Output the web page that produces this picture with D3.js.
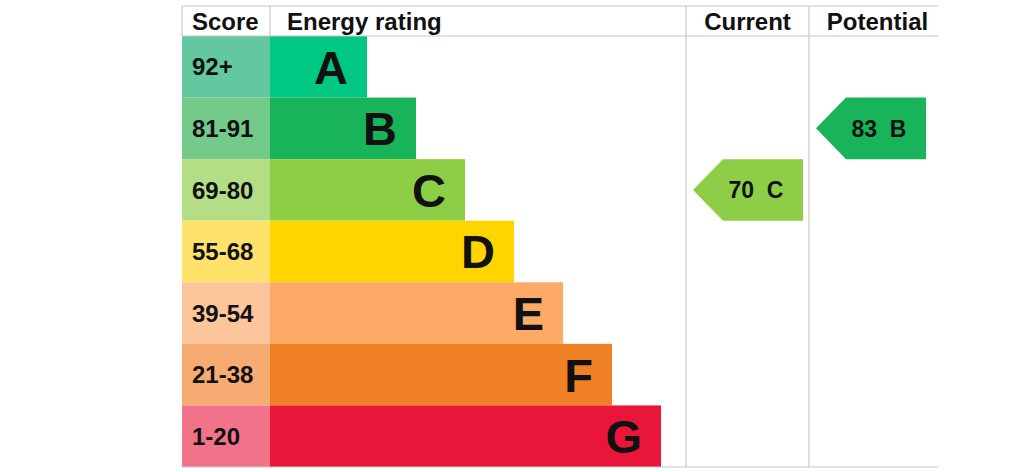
<!DOCTYPE html>
<html>
<head>
<meta charset="utf-8">
<script src="https://cdn.jsdelivr.net/npm/d3@7"></script>
<style>
  html, body { margin: 0; padding: 0; background: #fff; }
  svg text { font-family: "Liberation Sans", Arial, Helvetica, sans-serif; font-weight: bold; fill: #111; }
</style>
</head>
<body>
<svg id="chart" width="1024" height="472"></svg>
<script>
// rating bands, top to bottom
const ratings = ["A", "B", "C", "D", "E", "F", "G"];
const scoreRanges = ["92+", "81-91", "69-80", "55-68", "39-54", "21-38", "1-20"];
const barLevels = [1, 2, 3, 4, 5, 6, 7];
const scoreColors = ["#63c7a0", "#74ca8b", "#b3de86", "#fee26b", "#fdc59b", "#f5ab71", "#f1738a"];
const barColors = ["#00c781", "#19b459", "#8dce46", "#ffd500", "#fcaa65", "#ef8023", "#e9153b"];
const headers = ["Score", "Energy rating", "Current", "Potential"];

const currentScore = 70, currentRating = "C";
const potentialScore = 83, potentialRating = "B";

const svg = d3.select('#chart');
const grid = "#c8c8c8";

const left = 182, right = 938, tableTop = 6, headH = 30, bottom = 467;
const scoreW = 88;            // score column
const curX0 = 686, potX0 = 809;

const y = d3.scaleBand()
	.domain(ratings)
	.range([tableTop + headH, bottom])
	.padding(0);

const x = d3.scaleLinear()
	.domain([0, 7])
	.range([left + scoreW + 48, 661]);

// score cells
svg.append('g').selectAll('rect')
	.data(ratings)
	.join('rect')
	.attr('x', left)
	.attr('y', d => y(d))
	.attr('width', scoreW)
	.attr('height', y.bandwidth())
	.attr('fill', (d, i) => scoreColors[i]);

svg.append('g').selectAll('text')
	.data(ratings)
	.join('text')
	.attr('x', left + 10)
	.attr('y', d => y(d) + y.bandwidth() / 2)
	.attr('dy', '0.36em')
	.attr('font-size', 24)
	.text((d, i) => scoreRanges[i]);

// rating bars
svg.append('g').selectAll('rect')
	.data(ratings)
	.join('rect')
	.attr('x', left + scoreW)
	.attr('y', d => y(d))
	.attr('width', (d, i) => x(barLevels[i]) - (left + scoreW))
	.attr('height', y.bandwidth())
	.attr('fill', (d, i) => barColors[i]);

svg.append('g').selectAll('text')
	.data(ratings)
	.join('text')
	.attr('x', (d, i) => x(barLevels[i]) - 19)
	.attr('y', d => y(d) + y.bandwidth() / 2)
	.attr('dy', '0.36em')
	.attr('text-anchor', 'end')
	.attr('font-size', 47)
	.text(d => d);

// grid lines
const lines = svg.append('g').attr('stroke', grid).attr('stroke-width', 1.2);
lines.append('line').attr('x1', left).attr('x2', right).attr('y1', tableTop).attr('y2', tableTop);
lines.append('line').attr('x1', left).attr('x2', right).attr('y1', tableTop + headH).attr('y2', tableTop + headH);
lines.append('line').attr('x1', left).attr('x2', right).attr('y1', bottom).attr('y2', bottom);
lines.append('line').attr('x1', left).attr('x2', left).attr('y1', tableTop).attr('y2', tableTop + headH);
lines.append('line').attr('x1', left + scoreW).attr('x2', left + scoreW).attr('y1', tableTop).attr('y2', tableTop + headH);
[curX0, potX0].forEach(cx => {
	lines.append('line').attr('x1', cx).attr('x2', cx).attr('y1', tableTop).attr('y2', bottom);
});

// headers
const headX = [left + 10, left + scoreW + 17, (curX0 + potX0) / 2, (potX0 + right) / 2 + 4];
svg.append('g').selectAll('text')
	.data(headers)
	.join('text')
	.attr('x', (d, i) => headX[i])
	.attr('y', tableTop + headH / 2)
	.attr('dy', '0.36em')
	.attr('text-anchor', (d, i) => i < 2 ? 'start' : 'middle')
	.attr('font-size', 24)
	.text(d => d);

// arrows
const arrow = (x0, x1, rating, score) => {
	const i = ratings.indexOf(rating);
	const y0 = y(rating), h = y.bandwidth();
	const notch = 30;
	const pts = [[x0, y0 + h / 2], [x0 + notch, y0], [x1, y0], [x1, y0 + h], [x0 + notch, y0 + h]];
	svg.append('path')
		.attr('d', d3.line()(pts) + 'Z')
		.attr('fill', barColors[i]);
	svg.append('text')
		.attr('x', (x0 + x1) / 2 + 8)
		.attr('y', y0 + h / 2)
		.attr('dy', '0.36em')
		.attr('text-anchor', 'middle')
		.attr('font-size', 23)
		.style('white-space', 'pre')
		.text(score + '  ' + rating);
};
arrow(curX0 + 7, curX0 + 117, currentRating, currentScore);
arrow(potX0 + 7, potX0 + 117, potentialRating, potentialScore);
</script>
</body>
</html>
